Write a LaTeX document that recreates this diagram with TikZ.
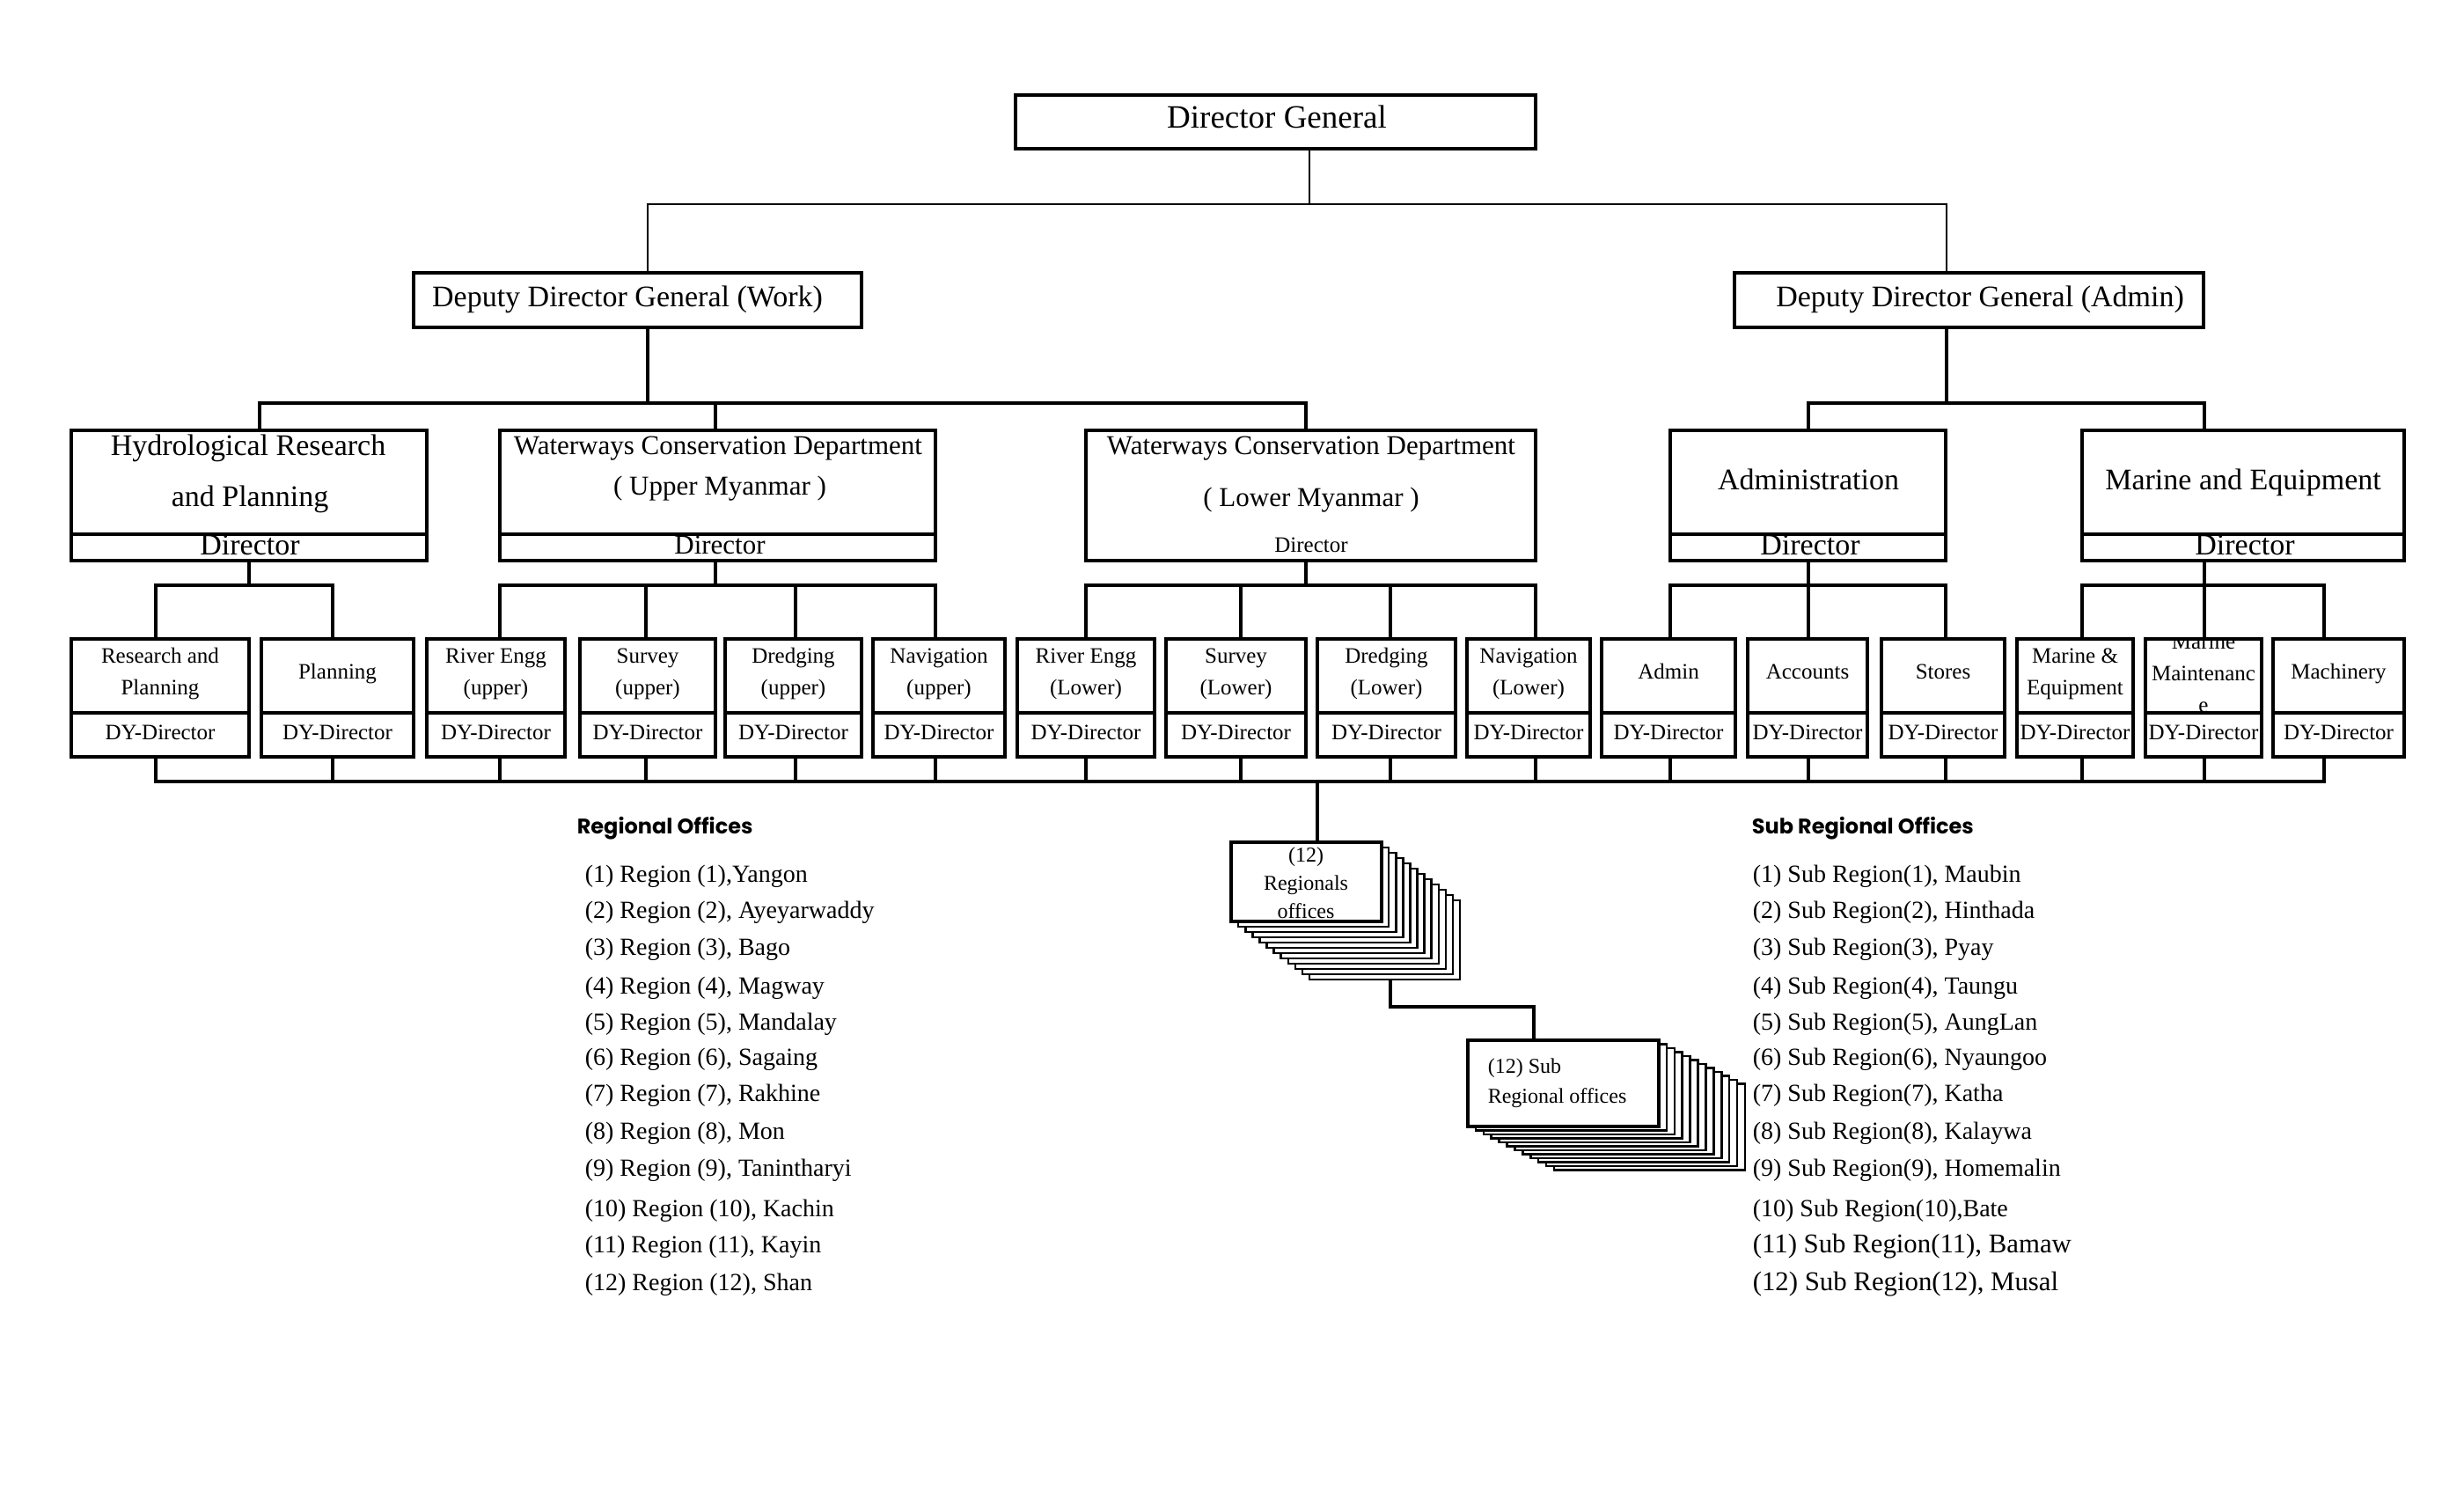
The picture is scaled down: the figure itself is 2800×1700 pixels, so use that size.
\documentclass[tikz,border=0pt]{standalone}
\usepackage{fontspec}
\setmainfont{Liberation Serif}
\newfontfamily\hfont{Poppins}
\newcommand\fsA{\fontsize{9.25pt}{11pt}\selectfont}
\newcommand\fsB{\fontsize{8.5pt}{10pt}\selectfont}
\newcommand\fsW{\fontsize{7.75pt}{9pt}\selectfont}
\newcommand\fsC{\fontsize{6.25pt}{7.5pt}\selectfont}
\newcommand\fsR{\fontsize{6pt}{7pt}\selectfont}
\newcommand\fsL{\fontsize{7pt}{8pt}\selectfont}
\newcommand\fsLL{\fontsize{7.7pt}{9pt}\selectfont}
\newcommand\fsH{\fontsize{6pt}{7pt}\selectfont\hfont\bfseries}
\newcommand\mkbox[6][]{\node[box,#1,minimum width={(#5-#3)*0.25pt},minimum height={(#6-#4)*0.25pt}] (#2) at ({(#3+#5)/2},{(#4+#6)/2}) {};}
\newcommand\rtwo[5]{%
  \mkbox{#1}{#2}{726}{#3}{860}
  \draw[div] (#1.west |- 0,810) -- (#1.east |- 0,810);
  \node[txt,font=\fsC] (#1a) at ({(#2+#3)/2},753) {#4};
  \node[txt,font=\fsC] (#1b) at ({(#2+#3)/2},789) {#5};
  \node[txt,font=\fsC] (#1d) at ({(#2+#3)/2},840) {DY-Director};}
\newcommand\rone[4]{%
  \mkbox{#1}{#2}{726}{#3}{860}
  \draw[div] (#1.west |- 0,810) -- (#1.east |- 0,810);
  \node[txt,font=\fsC] (#1a) at ({(#2+#3)/2},771) {#4};
  \node[txt,font=\fsC] (#1d) at ({(#2+#3)/2},840) {DY-Director};}
\begin{document}
\begin{tikzpicture}[x=0.25pt,y=-0.25pt,
  box/.style={draw,line width=1pt,inner sep=0pt},
  stackbox/.style={draw,fill=white,line width=0.65pt,inner sep=0pt},
  div/.style={line width=1pt},
  conn/.style={line width=0.9pt},
  topconn/.style={line width=0.6pt},
  txt/.style={inner sep=0pt,anchor=base},
  ltxt/.style={inner sep=0pt,anchor=base west}]
\useasboundingbox (0,0) rectangle (2800,1700);
\fill[white] (0,0) rectangle (2800,1700);

% ---------- top level
\mkbox{dg}{1154}{108}{1745}{169}
\node[txt,font=\fsA] (dgt) at (1451,146) {Director General};
\mkbox{ddgw}{470}{310}{979}{372}
\node[txt,font=\fsB] (ddgwt) at (713,349) {Deputy Director General (Work)};
\mkbox{ddga}{1971}{310}{2504}{372}
\node[txt,font=\fsB] (ddgat) at (2250,349) {Deputy Director General (Admin)};
\draw[topconn] (dg.south -| 1488,0) -- (1488,232);
\draw[topconn] (ddgw.north -| 736,0) -- (736,232) -| (ddga.north -| 2212,0);

% ---------- second level
\mkbox{hyd}{81}{489}{485}{637}
\draw[div] (hyd.west |- 0,607) -- (hyd.east |- 0,607);
\node[txt,font=\fsB] (hyd1) at (282,517) {Hydrological Research};
\node[txt,font=\fsB] (hyd2) at (284,575) {and Planning};
\node[txt,font=\fsB] (hydd) at (284,630) {Director};

\mkbox{wcu}{568}{489}{1063}{637}
\draw[div] (wcu.west |- 0,607) -- (wcu.east |- 0,607);
\node[txt,font=\fsW] (wcu1) at (816,516) {Waterways Conservation Department};
\node[txt,font=\fsW] (wcu2) at (818,562) {( Upper Myanmar )};
\node[txt,font=\fsW] (wcud) at (818,629) {Director};

\mkbox{wcl}{1234}{489}{1745}{637}
\node[txt,font=\fsW] (wcl1) at (1490,516) {Waterways Conservation Department};
\node[txt,font=\fsW] (wcl2) at (1490,575) {( Lower Myanmar )};
\node[txt,font=\fsC] (wcld) at (1490,627) {Director};

\mkbox{adm}{1898}{489}{2211}{637}
\draw[div] (adm.west |- 0,607) -- (adm.east |- 0,607);
\node[txt,font=\fsB] (adm1) at (2055,556) {Administration};
\node[txt,font=\fsB] (admd) at (2057,630) {Director};

\mkbox{mar}{2366}{489}{2732}{637}
\draw[div] (mar.west |- 0,607) -- (mar.east |- 0,607);
\node[txt,font=\fsB] (mar1) at (2549,556) {Marine and Equipment};
\node[txt,font=\fsB] (mard) at (2551,630) {Director};

\draw[conn] (ddgw.south -| 736,0) -- (736,458);
\draw[conn] (hyd.north -| 295,0) -- (295,458) -| (wcl.north -| 1484,0);
\draw[conn] (wcu.north -| 813,0) -- (813,458);
\draw[conn] (ddga.south -| 2212,0) -- (2212,458);
\draw[conn] (adm.north -| 2055,0) -- (2055,458) -| (mar.north -| 2505,0);

% ---------- third level
\rtwo{rp}{81}{283}{Research and}{Planning}
\rone{pl}{297}{470}{Planning}
\rtwo{reu}{485}{642}{River Engg}{(upper)}
\rtwo{suu}{659}{813}{Survey}{(upper)}
\rtwo{dru}{824}{979}{Dredging}{(upper)}
\rtwo{nvu}{992}{1142}{Navigation}{(upper)}
\rtwo{rel}{1156}{1312}{River Engg}{(Lower)}
\rtwo{sul}{1325}{1484}{Survey}{(Lower)}
\rtwo{drl}{1497}{1654}{Dredging}{(Lower)}
\rtwo{nvl}{1667}{1807}{Navigation}{(Lower)}
\rone{adn}{1820}{1972}{Admin}
\rone{acc}{1986}{2122}{Accounts}
\rone{sto}{2138}{2278}{Stores}
\rtwo{meq}{2292}{2424}{Marine \&}{Equipment}
\rone{mac}{2583}{2732}{Machinery}
% Marine Maintenance (text overflowing, clipped)
\begin{scope}
  \clip (2438,726) rectangle (2570,810);
  \node[txt,font=\fsC] (mm1) at (2504,737) {Marine};
  \node[txt,font=\fsC] (mm2) at (2504,773) {Maintenanc};
  \node[txt,font=\fsC] (mm3) at (2504,809) {e};
\end{scope}
\mkbox{mm}{2438}{726}{2570}{860}
\draw[div] (mm.west |- 0,810) -- (mm.east |- 0,810);
\node[txt,font=\fsC] (mmd) at (2504,840) {DY-Director};

% connectors level 2 -> 3
\draw[conn] (hyd.south -| 283,0) -- (283,665);
\draw[conn] (rp.north -| 177,0) -- (177,665) -| (pl.north -| 378,0);
\draw[conn] (wcu.south -| 813,0) -- (813,665);
\draw[conn] (reu.north -| 568,0) -- (568,665) -| (nvu.north -| 1063,0);
\draw[conn] (suu.north -| 734,0) -- (734,665);
\draw[conn] (dru.north -| 904,0) -- (904,665);
\draw[conn] (wcl.south -| 1484,0) -- (1484,665);
\draw[conn] (rel.north -| 1234,0) -- (1234,665) -| (nvl.north -| 1745,0);
\draw[conn] (sul.north -| 1410,0) -- (1410,665);
\draw[conn] (drl.north -| 1580,0) -- (1580,665);
\draw[conn] (adm.south -| 2055,0) -- (2055,665);
\draw[conn] (adn.north -| 1898,0) -- (1898,665) -| (sto.north -| 2211,0);
\draw[conn] (acc.north -| 2055,0) -- (2055,665);
\draw[conn] (mar.south -| 2505,0) -- (2505,665);
\draw[conn] (meq.north -| 2366,0) -- (2366,665) -| (mac.north -| 2641,0);
\draw[conn] (mm.north -| 2505,0) -- (2505,665);

% bottom bus
\draw[conn] (rp.south -| 177,0) -- (177,888) -| (mac.south -| 2641,0);
\draw[conn] (pl.south -| 378,0) -- (378,888);
\draw[conn] (reu.south -| 568,0) -- (568,888);
\draw[conn] (suu.south -| 734,0) -- (734,888);
\draw[conn] (dru.south -| 904,0) -- (904,888);
\draw[conn] (nvu.south -| 1063,0) -- (1063,888);
\draw[conn] (rel.south -| 1234,0) -- (1234,888);
\draw[conn] (sul.south -| 1410,0) -- (1410,888);
\draw[conn] (drl.south -| 1580,0) -- (1580,888);
\draw[conn] (nvl.south -| 1745,0) -- (1745,888);
\draw[conn] (adn.south -| 1898,0) -- (1898,888);
\draw[conn] (acc.south -| 2055,0) -- (2055,888);
\draw[conn] (sto.south -| 2211,0) -- (2211,888);
\draw[conn] (meq.south -| 2366,0) -- (2366,888);
\draw[conn] (mm.south -| 2505,0) -- (2505,888);
\coordinate (bus) at (1497,888);

% ---------- regional offices stack
\foreach \i in {11,...,1}
  \node[stackbox,minimum width={171*0.25pt},minimum height={90*0.25pt}] (reg\i) at ({1484.5+\i*8.1},{1002+\i*6}) {};
\node[stackbox,minimum width={171*0.25pt},minimum height={90*0.25pt},line width=0.8pt] (reg) at (1484.5,1002) {};
\node[txt,font=\fsR] (reg1t) at (1484,979) {(12)};
\node[txt,font=\fsR] (reg2t) at (1484,1011) {Regionals};
\node[txt,font=\fsR] (reg3t) at (1484,1043) {offices};
\draw[conn] (bus) -- (reg.north -| bus);

% ---------- sub regional offices stack
\foreach \i in {11,...,1}
  \node[stackbox,minimum width={217*0.25pt},minimum height={98*0.25pt}] (sub\i) at ({1776.5+\i*8.9},{1231+\i*4.5}) {};
\node[stackbox,minimum width={217*0.25pt},minimum height={98*0.25pt},line width=1.2pt] (sub) at (1776.5,1231) {};
\node[ltxt,font=\fsR] (sub1t) at (1690,1219) {(12) Sub};
\node[ltxt,font=\fsR] (sub2t) at (1690,1253) {Regional offices};
\draw[conn] (reg11.south -| 1580,0) -- (1580,1144) -| (sub.north -| 1743,0);

% ---------- lists
\node[ltxt,font=\fsH] (rot) at (655,947) {Regional Offices};
\foreach \yy/\lab [count=\i] in {
  1002/{(1) Region (1),Yangon},
  1043/{(2) Region (2), Ayeyarwaddy},
  1085/{(3) Region (3), Bago},
  1129/{(4) Region (4), Magway},
  1170/{(5) Region (5), Mandalay},
  1210/{(6) Region (6), Sagaing},
  1251/{(7) Region (7), Rakhine},
  1294/{(8) Region (8), Mon},
  1336/{(9) Region (9), Tanintharyi},
  1382/{(10) Region (10), Kachin},
  1423/{(11) Region (11), Kayin},
  1466/{(12) Region (12), Shan}}
  \node[ltxt,font=\fsL] (ro\i) at (664,\yy) {\lab};

\node[ltxt,font=\fsH] (srt) at (1990,947) {Sub Regional Offices};
\foreach \yy/\lab [count=\i] in {
  1002/{(1) Sub Region(1), Maubin},
  1043/{(2) Sub Region(2), Hinthada},
  1085/{(3) Sub Region(3), Pyay},
  1129/{(4) Sub Region(4), Taungu},
  1170/{(5) Sub Region(5), AungLan},
  1210/{(6) Sub Region(6), Nyaungoo},
  1251/{(7) Sub Region(7), Katha},
  1294/{(8) Sub Region(8), Kalaywa},
  1336/{(9) Sub Region(9), Homemalin},
  1382/{(10) Sub Region(10),Bate}}
  \node[ltxt,font=\fsL] (sr\i) at (1991,\yy) {\lab};
\node[ltxt,font=\fsLL] (sr11) at (1991,1423) {(11) Sub Region(11), Bamaw};
\node[ltxt,font=\fsLL] (sr12) at (1991,1466) {(12) Sub Region(12), Musal};
\end{tikzpicture}
\end{document}
